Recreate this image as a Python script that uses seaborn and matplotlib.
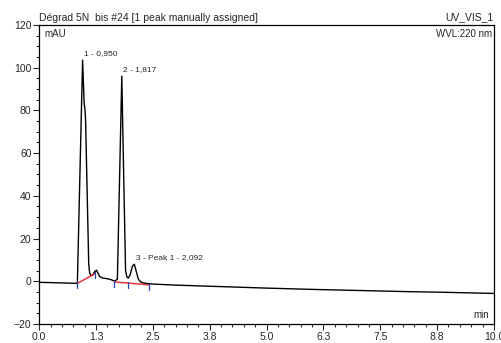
import matplotlib
matplotlib.use("Agg")
import matplotlib.pyplot as plt
import seaborn as sns
import pandas as pd

# chromatogram trace (min, mAU)
time = [0.0, 0.40, 0.84, 0.955, 0.99, 1.005, 1.02, 1.09, 1.11, 1.14, 1.18, 1.22,
        1.26, 1.29, 1.33, 1.40, 1.50, 1.60, 1.66, 1.72, 1.817, 1.86, 1.90, 1.93,
        1.96, 2.00, 2.05, 2.092, 2.13, 2.18, 2.24, 2.35, 2.50, 3.0, 4.0, 5.0,
        6.0, 7.0, 8.0, 9.0, 10.0]
signal = [-0.5, -0.7, -1.0, 103.5, 83.0, 81.0, 76.0, 8.0, 4.0, 2.5, 3.0, 4.5,
          5.2, 4.0, 2.2, 1.5, 1.2, 0.6, 0.0, 1.0, 96.0, 48.0, 5.0, 2.0,
          1.5, 3.0, 7.0, 8.0, 5.0, 1.0, -0.5, -1.0, -1.3, -1.8, -2.5, -3.2,
          -3.8, -4.3, -4.8, -5.2, -5.7]

# integration baselines and peak delimiters
base1_t = [0.84, 1.23]
base1_y = [-1.0, 3.6]
base2_t = [1.655, 2.42]
base2_y = [-0.3, -1.7]
delim_t = [0.84, 1.23, 1.655, 1.96, 2.42]
delim_y = [-1.0, 3.6, -0.3, -1.0, -1.7]

# peak labels
peak_t = [0.955, 1.817, 2.092]
peak_y = [103.5, 96.0, 8.0]
peak_lbl = ["1 - 0,950", "2 - 1,817", "3 - Peak 1 - 2,092"]

xticks = [0.0, 1.25, 2.5, 3.75, 5.0, 6.25, 7.5, 8.75, 10.0]
xtick_lbl = ["0.0", "1.3", "2.5", "3.8", "5.0", "6.3", "7.5", "8.8", "10.0"]
yticks = [-20, 0, 20, 40, 60, 80, 100, 120]

sns.set_style("ticks")
plt.rcParams['font.family'] = ['Liberation Sans', 'DejaVu Sans']

fig = plt.figure(figsize=(5.02, 3.43), dpi=100)
ax = fig.add_axes([0.078, 0.0554, 0.906, 0.872])

df = pd.DataFrame({"t": time, "y": signal})
sns.lineplot(data=df, x="t", y="y", ax=ax, color="black", lw=1.0, sort=False)

ax.plot(base1_t, base1_y, color="#e8262a", lw=1.0)
ax.plot(base2_t, base2_y, color="#e8262a", lw=1.0)
for t, v in zip(delim_t, delim_y):
    ax.plot([t, t], [v + 0.6, v - 2.2], color="#2840b8", lw=0.9)

for t, v, s in zip(peak_t, peak_y, peak_lbl):
    ax.annotate(s, (t, v), xytext=(1, 2), textcoords="offset points",
                fontsize=6, ha="left", va="bottom")

ax.set_xlim(0, 10)
ax.set_ylim(-20, 120)
ax.set_xticks(xticks)
ax.set_xticklabels(xtick_lbl)
ax.set_yticks(yticks)
ax.set_xticks([i * 0.25 for i in range(41)], minor=True)
ax.set_yticks(list(range(-20, 121, 5)), minor=True)
ax.tick_params(axis="both", which="major", length=4, width=0.8, labelsize=7.5, pad=1.5)
ax.tick_params(axis="both", which="minor", length=2, width=0.8)
ax.set_xlabel("")
ax.set_ylabel("")
for sp in ax.spines.values():
    sp.set_visible(True)
    sp.set_linewidth(0.9)
    sp.set_color("black")

ax.text(0.0, 1.008, "Dégrad 5N  bis #24 [1 peak manually assigned]", transform=ax.transAxes,
        fontsize=7.5, ha="left", va="bottom")
ax.text(1.0, 1.008, "UV_VIS_1", transform=ax.transAxes, fontsize=7.5, ha="right", va="bottom")
ax.text(0.012, 0.985, "mAU", transform=ax.transAxes, fontsize=7, ha="left", va="top")
ax.text(0.995, 0.985, "WVL:220 nm", transform=ax.transAxes, fontsize=7, ha="right", va="top")
ax.text(0.99, 0.015, "min", transform=ax.transAxes, fontsize=7, ha="right", va="bottom")

fig.savefig("out.png", dpi=100)
